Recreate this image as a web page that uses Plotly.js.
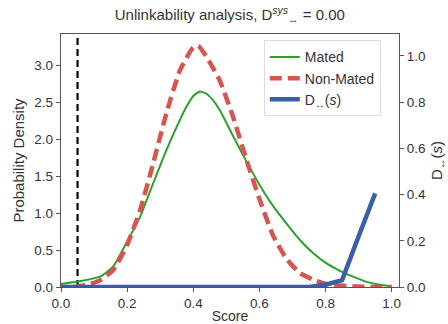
<!DOCTYPE html>
<html>
<head>
<meta charset="utf-8">
<script src="https://cdn.plot.ly/plotly-3.0.1.min.js"></script>
<style>html,body{margin:0;padding:0;background:#fff;}#chart{width:448px;height:324px;}</style>
</head>
<body>
<div id="chart"></div>
<script>
// Score grid and densities
const matedX = [0.0, 0.06, 0.118, 0.158, 0.198, 0.239, 0.279, 0.319, 0.36, 0.38, 0.40, 0.42, 0.44, 0.46, 0.48, 0.52, 0.561, 0.601, 0.641, 0.682, 0.722, 0.762, 0.803, 0.843, 0.883, 0.924, 0.964, 1.0];
const matedY = [0.04, 0.08, 0.14, 0.28, 0.6, 0.95, 1.41, 1.86, 2.27, 2.45, 2.59, 2.65, 2.62, 2.53, 2.4, 2.05, 1.70, 1.38, 1.10, 0.86, 0.64, 0.46, 0.32, 0.22, 0.14, 0.07, 0.03, 0.01];
const nonMatedX = [0.037, 0.08, 0.118, 0.158, 0.198, 0.239, 0.279, 0.319, 0.36, 0.40, 0.415, 0.44, 0.48, 0.52, 0.561, 0.601, 0.641, 0.682, 0.722, 0.762, 0.803, 0.88, 0.95, 1.0];
const nonMatedY = [0.0, 0.03, 0.09, 0.23, 0.55, 1.04, 1.68, 2.36, 2.94, 3.25, 3.27, 3.12, 2.8, 2.31, 1.72, 1.18, 0.70, 0.38, 0.19, 0.1, 0.04, 0.01, 0.0, 0.0];
const dX = [0.0, 0.1, 0.2, 0.3, 0.4, 0.5, 0.6, 0.7, 0.75, 0.8, 0.85, 0.9, 0.95];
const dY = [0, 0, 0, 0, 0, 0, 0, 0, 0, 0.01, 0.03, 0.22, 0.405];
const threshold = [0.05];
const dSys = "0.00";

const traces = [
  {x: [threshold[0], threshold[0]], y: [0, 3.43], mode: 'lines', showlegend: false, hoverinfo: 'skip',
   line: {color: '#000000', width: 2.2, dash: '7px,4px'}},
  {x: matedX, y: matedY, mode: 'lines', name: 'Mated', line: {color: '#2ca02c', width: 2, shape: 'spline', smoothing: 0.5}},
  {x: nonMatedX, y: nonMatedY, mode: 'lines', name: 'Non-Mated', line: {color: '#d9534f', width: 4.5, dash: '12px,6px', shape: 'spline', smoothing: 0.5}},
  {x: dX, y: dY, mode: 'lines', name: 'D<sub>↔</sub>(<i>s</i>)', yaxis: 'y2', line: {color: '#3a5ea8', width: 4.5}}
];

const font = {family: 'Liberation Sans, Arial, sans-serif', color: '#333333'};
const layout = {
  width: 448, height: 324,
  margin: {l: 61, r: 49, t: 34, b: 37, pad: 0},
  paper_bgcolor: '#ffffff', plot_bgcolor: '#ffffff',
  font: Object.assign({size: 13}, font),
  title: {text: 'Unlinkability analysis, D<sup><i>sys</i></sup><sub>↔</sub> = ' + dSys, x: 0.513, xanchor: 'center', y: 0.955, yanchor: 'middle',
          font: Object.assign({size: 15}, font)},
  xaxis: {range: [0, 1.022], tickvals: [0, 0.2, 0.4, 0.6, 0.8, 1.0], tickformat: '.1f',
          showgrid: false, zeroline: false, showline: true, linecolor: '#555555', linewidth: 1.2, mirror: true,
          ticks: 'outside', ticklen: 4, tickcolor: '#555555', tickfont: {size: 13.5},
          title: {text: 'Score', font: {size: 14}, standoff: 2}},
  yaxis: {range: [0, 3.43], tickvals: [0, 0.5, 1.0, 1.5, 2.0, 2.5, 3.0], tickformat: '.1f',
          showgrid: false, zeroline: false, showline: true, linecolor: '#555555', linewidth: 1.2, mirror: true,
          ticks: 'outside', ticklen: 4, tickcolor: '#555555', tickfont: {size: 13.5},
          title: {text: 'Probability Density', font: {size: 15}, standoff: 6}},
  yaxis2: {range: [0, 1.095], overlaying: 'y', side: 'right', tickvals: [0, 0.2, 0.4, 0.6, 0.8, 1.0], tickformat: '.1f',
           showgrid: false, zeroline: false, showline: false,
           ticks: 'outside', ticklen: 4, tickcolor: '#555555', tickfont: {size: 13.5},
           title: {text: 'D<sub>↔</sub>(<i>s</i>)', font: {size: 15}, standoff: 6}},
  legend: {x: 0.6, xanchor: 'left', y: 0.975, yanchor: 'top', bgcolor: '#ffffff', bordercolor: '#dddddd', borderwidth: 1,
           font: Object.assign({size: 14}, font), tracegroupgap: 0, itemwidth: 30},
  showlegend: true
};

Plotly.newPlot('chart', traces, layout, {displayModeBar: false, staticPlot: true});
</script>
</body>
</html>
